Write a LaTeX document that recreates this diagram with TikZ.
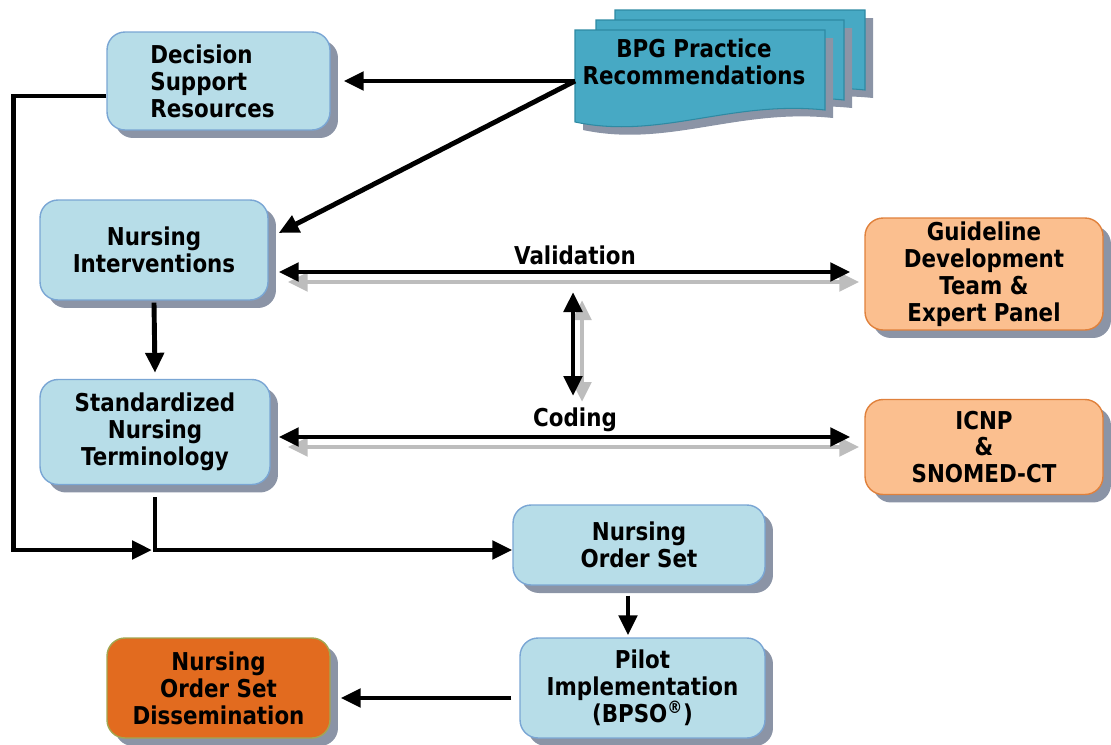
\documentclass[tikz,border=0pt]{standalone}
\usepackage{fontspec}
\setmainfont{DejaVu Sans Bold}[FakeStretch=0.87]
\usetikzlibrary{arrows.meta,shadows,calc}
\definecolor{lb}{HTML}{B7DDE8}
\definecolor{lbb}{HTML}{7AA6D4}
\definecolor{shd}{HTML}{8B94A6}
\definecolor{bpgc}{HTML}{47A9C4}
\definecolor{bpgb}{HTML}{2E8AA3}
\definecolor{lo}{HTML}{FBBF8F}
\definecolor{lob}{HTML}{E0813C}
\definecolor{dko}{HTML}{E26B1F}
\definecolor{dkob}{HTML}{A3A651}
\definecolor{ash}{HTML}{BDBDBD}
\tikzset{
  txt/.style={font=\fontsize{14}{15.3}\selectfont, align=center, inner sep=0pt},
  box/.style={txt, rounded corners=0.36cm, draw=lbb, fill=lb, line width=0.8pt,
    drop shadow={shadow xshift=0.16cm, shadow yshift=-0.16cm, fill=shd, opacity=1}},
  obox/.style={box, draw=lob, fill=lo},
  dbox/.style={box, draw=dkob, fill=dko},
  arr/.style={line width=2.8pt, -{Triangle[length=0.4cm,width=0.36cm]}},
  darr/.style={line width=2.8pt, {Triangle[length=0.4cm,width=0.36cm]}-{Triangle[length=0.4cm,width=0.36cm]}},
  garr/.style={darr, draw=ash, color=ash},
  page/.style={fill=bpgc, draw=bpgb, line width=0.6pt},
  pshadow/.style={fill=shd}
}
\begin{document}
\begin{tikzpicture}[x=0.02cm,y=-0.02cm]
\useasboundingbox (0,0) rectangle (1111,744);
% BPG document stack
\fill[pshadow] (623,18) -- (873,18) -- (873,98) .. controls (778,88) and (708,128) .. (623,110) -- cycle;
\draw[page] (615,10) -- (865,10) -- (865,90) .. controls (770,80) and (700,120) .. (615,102) -- cycle;
\fill[pshadow] (604,28) -- (852,28) -- (852,108) .. controls (757,98) and (687,138) .. (604,120) -- cycle;
\draw[page] (596,20) -- (844,20) -- (844,100) .. controls (749,90) and (679,130) .. (596,112) -- cycle;
\fill[pshadow] (583,38) -- (833,38) -- (833,118) .. controls (738,108) and (668,148) .. (583,130) -- cycle;
\draw[page] (575,30) -- (825,30) -- (825,110) .. controls (730,100) and (660,140) .. (575,122) -- cycle;
\node[txt] (bpg) at (694,62) {BPG Practice\\Recommendations};
\coordinate (bpgL) at (575,81);

% boxes
\node[box, minimum width=4.46cm, minimum height=1.96cm] (dsr) at (218.5,81) {};
\node[txt, align=left, anchor=west] (dsrt) at (150,81) {Decision\\ Support\\Resources};
\node[box, minimum width=4.56cm, minimum height=2.0cm] (ni) at (154,250) {Nursing\\Interventions};
\node[box, minimum width=4.6cm, minimum height=2.1cm] (snt) at (155,432) {Standardized\\Nursing\\Terminology};
\node[obox, minimum width=4.76cm, minimum height=2.24cm] (gd) at (984,274) {Guideline\\Development\\Team \&\\Expert Panel};
\node[obox, minimum width=4.76cm, minimum height=1.9cm] (icnp) at (984,447) {ICNP\\\&\\SNOMED-CT};
\node[box, minimum width=5.04cm, minimum height=1.6cm] (nos) at (639,545) {Nursing\\Order Set};
\node[box, minimum width=4.9cm, minimum height=2.0cm] (pil) at (642.5,688) {Pilot\\Implementation\\(BPSO\textsuperscript{®})};
\node[dbox, minimum width=4.46cm, minimum height=2.0cm] (dis) at (218.5,688) {Nursing\\Order Set\\Dissemination};

% labels
\node[txt] (val) at (575,255) {Validation};
\node[txt] (cod) at (575,420) {Coding};

% BPG arrows
\draw[arr] (bpgL) -- ($(dsr.east |- bpgL)+(13,0)$);
\draw[arr] (bpgL) -- ($(ni.east)+(10,-17)$);

% left loop
\coordinate (j) at (152,550);
\draw[arr, line join=miter] ($(dsr.west)+(0,15)$) -- ++(-93,0) |- (j);
\draw[arr, line join=miter] ($(snt.south)+(0,12)$) |- (nos.west |- j);

% NI -> SNT
\draw[arr] ($(ni.south)+(0,2)$) -- ($(snt.north)+(0,-6)$);

% Validation
\coordinate (v1) at ($(ni.east)+(10,22)$);
\coordinate (v2) at ($(gd.west |- v1)+(-14,0)$);
\draw[garr] ($(v1)+(9,10)$) -- ($(v2)+(9,10)$);
\draw[darr] (v1) -- (v2);

% vertical
\coordinate (u1) at (573,292);
\coordinate (u2) at (573,396);
\draw[garr] ($(u1)+(9,8)$) -- ($(u2)+(9,6)$);
\draw[darr] (u1) -- (u2);

% Coding
\coordinate (c1) at ($(snt.east)+(8,5)$);
\coordinate (c2) at ($(icnp.west |- c1)+(-14,0)$);
\draw[garr] ($(c1)+(9,10)$) -- ($(c2)+(9,10)$);
\draw[darr] (c1) -- (c2);

% NOS -> Pilot
\coordinate (a1) at ($(nos.south)+(-11,10)$);
\draw[arr] (a1) -- ($(a1 |- pil.north)+(0,-2)$);

% Pilot -> Dissemination
\coordinate (a2) at ($(pil.west)+(-8,10)$);
\draw[arr] (a2) -- ($(dis.east |- a2)+(10,0)$);
\end{tikzpicture}
\end{document}
